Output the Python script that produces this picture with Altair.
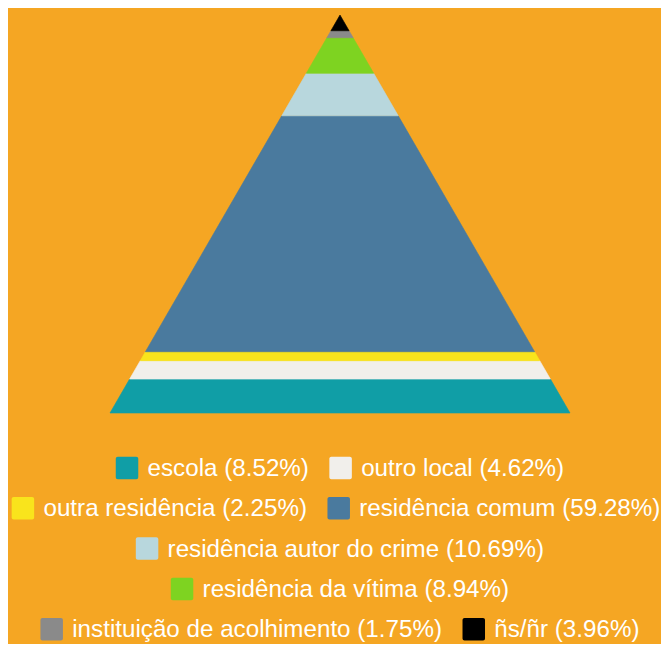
import altair as alt
import pandas as pd

# ---- data ----
categories = [
    "escola",
    "outro local",
    "outra residência",
    "residência comum",
    "residência autor do crime",
    "residência da vítima",
    "instituição de acolhimento",
    "ñs/ñr",
]
values = [8.52, 4.62, 2.25, 59.28, 10.69, 8.94, 1.75, 3.96]
colors = ["#109EA6", "#F1EFEB", "#F9E41C", "#4A7A9E", "#B8D7DD", "#7ED321", "#8A8A8A", "#000000"]

BG = "#F5A623"
W, H = 653, 636
CX = 332            # horizontal centre of pyramid and legend rows
FONT = 24.2

# ---- pyramid bands (heights proportional to value) ----
total = sum(values)
rows = []
cum = 0.0
for i, (c, v) in enumerate(zip(categories, values)):
    lo = cum / total * 100
    cum += v
    hi = cum / total * 100
    for lvl in (lo, hi):
        half = 50 * (1 - lvl / 100)
        rows.append({"cat": c, "order": i, "level": lvl, "xl": -half, "xr": half})
pyr_df = pd.DataFrame(rows)

pyramid = alt.Chart(pyr_df).mark_area(orient="horizontal", strokeWidth=0.6).encode(
    y=alt.Y("level:Q", scale=alt.Scale(domain=[0, 100], range=[405, 7]), axis=None),
    x=alt.X("xl:Q", scale=alt.Scale(domain=[-50, 50], range=[CX - 230, CX + 230]),
            axis=None, stack=None),
    x2="xr:Q",
    color=alt.Color("cat:N", scale=alt.Scale(domain=categories, range=colors), legend=None),
    stroke=alt.Stroke("cat:N", scale=alt.Scale(domain=categories, range=colors), legend=None),
    detail="cat:N",
)

# ---- custom flow legend (Arial metrics for text widths) ----
AW = {" ": 278, "(": 333, ")": 333, ".": 278, "%": 889, "/": 278,
      "a": 556, "b": 556, "c": 500, "d": 556, "e": 556, "f": 278, "g": 556, "h": 556,
      "i": 222, "j": 222, "k": 500, "l": 222, "m": 833, "n": 556, "o": 556, "p": 556,
      "q": 556, "r": 333, "s": 500, "t": 278, "u": 556, "v": 500, "w": 722, "x": 500,
      "y": 500, "z": 500, "ê": 556, "í": 278, "ç": 500, "ã": 556, "ñ": 556}
for d in "0123456789":
    AW[d] = 556


def tw(s):
    return sum(AW.get(ch, 556) for ch in s) * FONT / 1000


labels = [f"{c} ({v:.2f}%)" for c, v in zip(categories, values)]
SQ, GAP_T, GAP_I = 22.5, 9.3, 20.4
ROW0, ROWSTEP = 460, 40.3
items = [(c, lab, SQ + GAP_T + tw(lab)) for c, lab in zip(categories, labels)]

lines, cur, curw = [], [], 0
for it in items:
    add = it[2] if not cur else GAP_I + it[2]
    if cur and curw + add > W:
        lines.append((cur, curw))
        cur, curw = [it], it[2]
    else:
        cur.append(it)
        curw += add
lines.append((cur, curw))

leg_rows = []
for r, (its, wrow) in enumerate(lines):
    centre = min(CX, W - wrow / 2 - 0.5)
    x = centre - wrow / 2
    yc = ROW0 + r * ROWSTEP
    for c, lab, w in its:
        leg_rows.append({"cat": c, "label": lab,
                         "sx": x, "sx2": x + SQ, "sy": yc - SQ / 2, "sy2": yc + SQ / 2,
                         "tx": x + SQ + GAP_T, "ty": yc + 1})
        x += w + GAP_I
leg_df = pd.DataFrame(leg_rows)

squares = alt.Chart(leg_df).mark_rect(cornerRadius=2).encode(
    x=alt.X("sx:Q", scale=None, axis=None), x2="sx2:Q",
    y=alt.Y("sy:Q", scale=None, axis=None), y2="sy2:Q",
    color=alt.Color("cat:N", scale=alt.Scale(domain=categories, range=colors), legend=None),
)

texts = alt.Chart(leg_df).mark_text(
    align="left", baseline="middle", fontSize=FONT,
    font="Liberation Sans, Arial, sans-serif", color="#FFFFFF",
).encode(
    x=alt.X("tx:Q", scale=None, axis=None),
    y=alt.Y("ty:Q", scale=None, axis=None),
    text="label:N",
)

chart = alt.layer(pyramid, squares, texts).resolve_scale(
    x="independent", y="independent"
).properties(
    width=W, height=H, padding=0,
    autosize=alt.AutoSizeParams(type="none"),
).configure(background=BG).configure_view(stroke=None)

chart.save("out.html", embed_options={"renderer": "svg", "actions": False})
